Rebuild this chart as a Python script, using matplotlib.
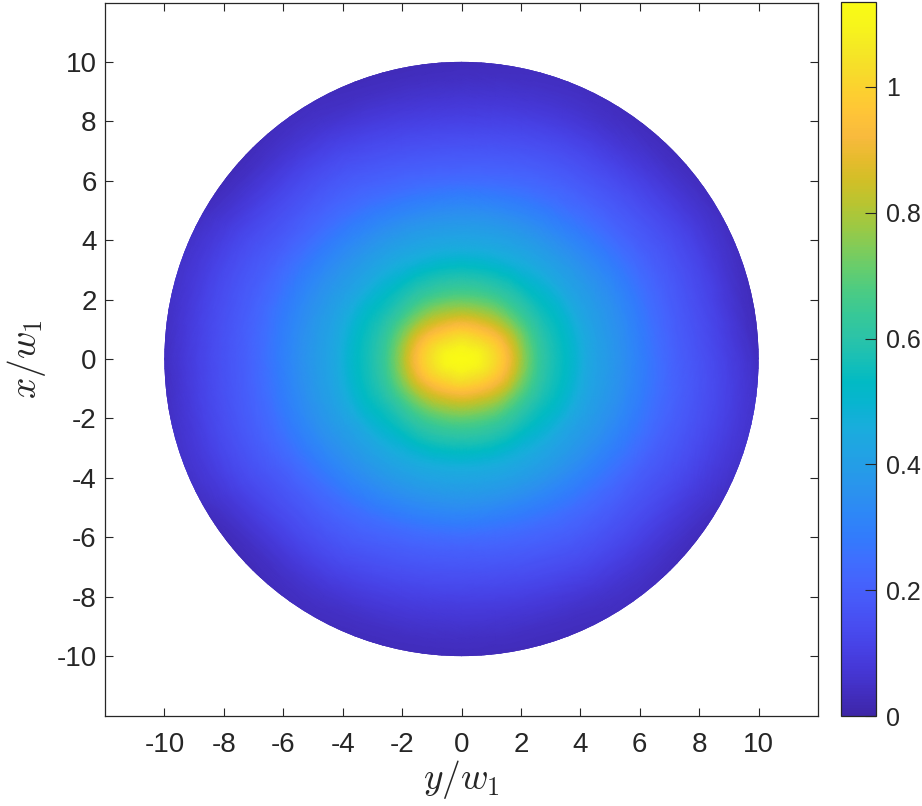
import numpy as np
import matplotlib
matplotlib.use('Agg')
import matplotlib.pyplot as plt
import matplotlib.tri as mtri
from matplotlib.colors import LinearSegmentedColormap
from matplotlib.patches import Circle

# intensity, along spokes of the disk
radii = [0, 0.5, 1, 1.5, 2, 2.5, 3, 3.5, 4, 5, 6, 7, 8, 9, 10, 10.6]
spoke_deg = [0, 30, 60, 90]  # angle from the +y/w1 (horizontal) axis
I_0 = [1.13, 1.11, 1.04, 0.94, 0.79, 0.66, 0.58, 0.53, 0.47, 0.38, 0.30, 0.22, 0.16, 0.10, 0.04, 0.02]
I_30 = [1.13, 1.10, 1.02, 0.91, 0.77, 0.65, 0.57, 0.52, 0.46, 0.37, 0.29, 0.21, 0.15, 0.09, 0.04, 0.02]
I_60 = [1.13, 1.08, 0.98, 0.85, 0.73, 0.63, 0.56, 0.49, 0.44, 0.35, 0.26, 0.19, 0.13, 0.07, 0.035, 0.02]
I_90 = [1.13, 1.08, 0.97, 0.83, 0.71, 0.62, 0.55, 0.48, 0.43, 0.34, 0.24, 0.17, 0.11, 0.06, 0.03, 0.02]
profiles = [I_0, I_30, I_60, I_90]

ticks = list(range(-10, 11, 2))
cbar_ticks = [0, 0.2, 0.4, 0.6, 0.8, 1]
vmin, vmax = 0, 1.135

# parula (MATLAB default)
parula = LinearSegmentedColormap.from_list('parula', [
    (0.2422, 0.1504, 0.6603), (0.2578, 0.1818, 0.7511), (0.2706, 0.2147, 0.8364),
    (0.2783, 0.2559, 0.8991), (0.2813, 0.3006, 0.9414), (0.2795, 0.3447, 0.9717),
    (0.2699, 0.3892, 0.9906), (0.2440, 0.4358, 0.9988), (0.1963, 0.4847, 0.9892),
    (0.1786, 0.5289, 0.9682), (0.1687, 0.5703, 0.9359), (0.1460, 0.6091, 0.9079),
    (0.1248, 0.6459, 0.8883), (0.0952, 0.6798, 0.8598), (0.0297, 0.7082, 0.8163),
    (0.0067, 0.7312, 0.7660), (0.0964, 0.7500, 0.7120), (0.1717, 0.7670, 0.6554),
    (0.2161, 0.7843, 0.5923), (0.2906, 0.7973, 0.5188), (0.3909, 0.8029, 0.4354),
    (0.5044, 0.7993, 0.3480), (0.6174, 0.7876, 0.2612), (0.7242, 0.7698, 0.1910),
    (0.8203, 0.7498, 0.1535), (0.9035, 0.7330, 0.1774), (0.9728, 0.7298, 0.2394),
    (0.9970, 0.7659, 0.2199), (0.9892, 0.8136, 0.1885), (0.9676, 0.8639, 0.1643),
    (0.9597, 0.9135, 0.1423), (0.9691, 0.9606, 0.1064), (0.9769, 0.9839, 0.0805)])

# build points on the spokes (mirror the quadrant into the full disk)
px, py, pz = [0.0], [0.0], [I_0[0]]
for a in range(0, 360, 30):
    fold = a % 180
    if fold > 90:
        fold = 180 - fold
    prof = profiles[spoke_deg.index(fold)]
    for r, v in zip(radii[1:], prof[1:]):
        px.append(r * np.cos(np.radians(a)))
        py.append(r * np.sin(np.radians(a)))
        pz.append(v)

tri = mtri.Triangulation(px, py)
refiner = mtri.UniformTriRefiner(tri)
tri_f, z_f = refiner.refine_field(np.array(pz), subdiv=4)

plt.rcParams['font.family'] = ['Liberation Sans', 'DejaVu Sans']
plt.rcParams['mathtext.fontset'] = 'cm'
plt.rcParams['axes.unicode_minus'] = False
dark = (0.15, 0.15, 0.15)

fig = plt.figure(figsize=(9.22, 8.06), dpi=100)
ax = fig.add_axes([105 / 922, 90 / 806, 713 / 922, 714 / 806])
cax = fig.add_axes([841 / 922, 90 / 806, 35 / 922, 714 / 806])

tpc = ax.tripcolor(tri_f, z_f, shading='gouraud', cmap=parula, vmin=vmin, vmax=vmax, rasterized=True)
disk = Circle((0, 0), 10, transform=ax.transData)
tpc.set_clip_path(disk)

ax.set_xlim(-12, 12)
ax.set_ylim(-12, 12)
ax.set_aspect('equal')
ax.set_xticks(ticks)
ax.set_yticks(ticks)
ax.tick_params(direction='in', length=5.5, width=0.8, top=True, right=True,
               labelsize=20, colors=dark)
ax.tick_params(axis='x', pad=12)
ax.tick_params(axis='y', pad=6)
for s in ax.spines.values():
    s.set_color(dark)
    s.set_linewidth(0.9)
ax.set_xlabel(r'$y/w_1$', fontsize=27, color=dark, labelpad=0)
ax.set_ylabel(r'$x/w_1$', fontsize=27, color=dark, labelpad=6)

cb = fig.colorbar(tpc, cax=cax, ticks=cbar_ticks)
cb.ax.set_yticklabels(['0', '0.2', '0.4', '0.6', '0.8', '1'])
cb.ax.tick_params(direction='in', length=8, width=0.8, labelsize=18, colors=dark, pad=7)
cb.outline.set_edgecolor(dark)
cb.outline.set_linewidth(0.9)

fig.savefig('out.png', dpi=100)
